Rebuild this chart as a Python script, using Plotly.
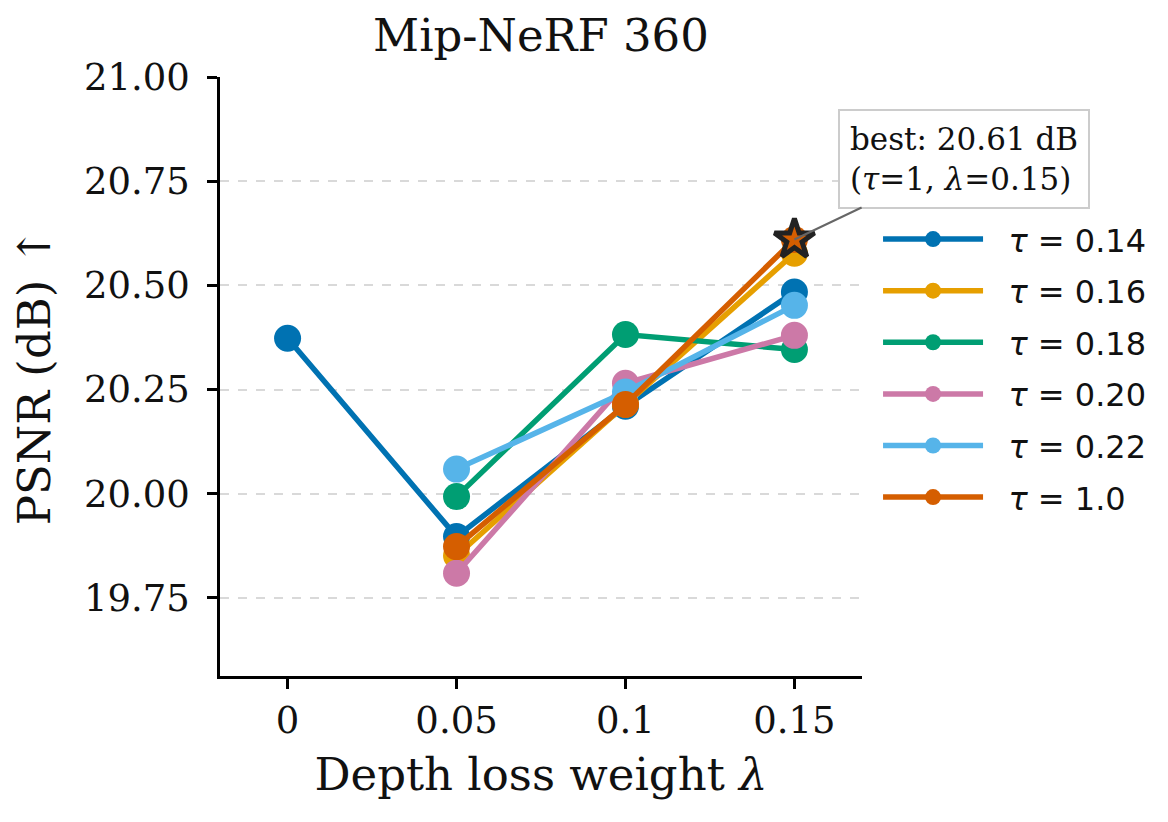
import plotly.graph_objects as go

# ---- data ----
lambdas = [0.0, 0.05, 0.10, 0.15]
series_names = ["0.14", "0.16", "0.18", "0.20", "0.22", "1.0"]
psnr_014 = [20.373, 19.897, 20.210, 20.484]
psnr_016 = [None, 19.851, 20.215, 20.577]
psnr_018 = [None, 19.993, 20.382, 20.346]
psnr_020 = [None, 19.809, 20.265, 20.380]
psnr_022 = [None, 20.059, 20.244, 20.452]
psnr_100 = [None, 19.873, 20.214, 20.610]
colors = ["#0072B2", "#E69F00", "#009E73", "#CC79A7", "#56B4E9", "#D55E00"]
best_lambda = 0.15
best_psnr = 20.61
x_tick_vals = [0.0, 0.05, 0.10, 0.15]
x_tick_text = ["0", "0.05", "0.1", "0.15"]
y_tick_vals = [19.75, 20.00, 20.25, 20.50, 20.75, 21.00]

all_series = [psnr_014, psnr_016, psnr_018, psnr_020, psnr_022, psnr_100]

SERIF = "DejaVu Serif"
SANS = "DejaVu Sans"

fig = go.Figure()
for i, (name, vals, col) in enumerate(zip(series_names, all_series, colors)):
    xs = [x for x, v in zip(lambdas, vals) if v is not None]
    ys = [v for v in vals if v is not None]
    fig.add_trace(go.Scatter(
        x=xs, y=ys, mode="lines+markers",
        name=f"\u00a0\u00a0<i>τ</i> = {name}",
        legendgroup=f"g{i}",
        line=dict(color=col, width=5.5),
        marker=dict(color=col, size=27),
    ))

fig.add_trace(go.Scatter(
    x=[best_lambda], y=[best_psnr], mode="markers", showlegend=False,
    marker=dict(symbol="star", size=30, color="#D55E00",
                line=dict(color="#222222", width=5)),
))

fig.add_annotation(
    x=best_lambda, y=best_psnr, xref="x", yref="y",
    text=f"best: {best_psnr:.2f} dB<br>(<i>τ</i>=1, <i>λ</i>={best_lambda:.2f})",
    showarrow=True, arrowhead=0, arrowwidth=2, arrowcolor="#666666",
    ax=170, ay=-81, standoff=0,
    font=dict(family=SERIF, size=31, color="#111111"),
    bgcolor="white", bordercolor="#cccccc", borderwidth=2, borderpad=10,
    align="left",
)

fig.update_layout(
    width=1168, height=822,
    margin=dict(l=220, r=306, t=77, b=146, autoexpand=False),
    paper_bgcolor="white", plot_bgcolor="white",
    title=dict(text="Mip-NeRF 360", x=(220 + 642 / 2) / 1168, xanchor="center",
               y=1 - 35 / 822, yanchor="middle",
               font=dict(family=SERIF, size=45, color="#111111")),
    legend=dict(x=1.025, y=0.775, xanchor="left", yanchor="top",
                font=dict(family=SANS, size=32, color="#111111"),
                tracegroupgap=7, itemwidth=100, bgcolor="rgba(0,0,0,0)"),
    showlegend=True,
)

fig.update_xaxes(
    range=[-0.02, 0.17], tickvals=x_tick_vals, ticktext=x_tick_text,
    showgrid=False, zeroline=False,
    showline=True, linecolor="black", linewidth=2.5,
    ticks="outside", ticklen=10, tickwidth=2.5, tickcolor="black",
    tickfont=dict(family=SERIF, size=37, color="#111111"),
    title=dict(text="Depth loss weight <i>λ</i>", standoff=18,
               font=dict(family=SERIF, size=45, color="#111111")),
)
fig.update_yaxes(
    range=[19.5625, 21.0], tickvals=y_tick_vals, tickformat=".2f",
    showgrid=True, gridcolor="#d9d9d9", gridwidth=1.5, griddash="dash",
    zeroline=False,
    showline=True, linecolor="black", linewidth=2.5,
    ticks="outside", ticklen=10, tickwidth=2.5, tickcolor="black",
    ticklabelstandoff=10,
    tickfont=dict(family=SERIF, size=37, color="#111111"),
    title=dict(text="PSNR (dB) ↑", standoff=20,
               font=dict(family=SERIF, size=45, color="#111111")),
)

fig.write_html("out.html")
